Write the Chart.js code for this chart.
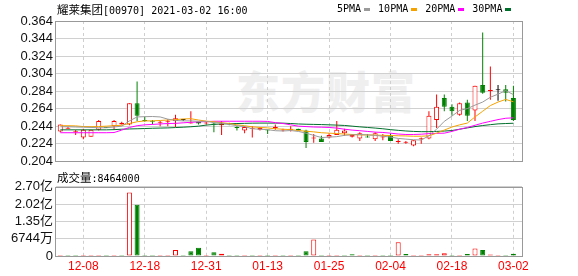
<!DOCTYPE html>
<html lang="zh">
  <head>
    <meta charset="UTF-8" />
    <title>耀莱集团 K线</title>
    <style>
      body { margin: 0; background: #fff; }
      #wrap { position: relative; width: 578px; height: 276px; overflow: hidden; }
      #wrap canvas { position: absolute; left: 0; }
      .mono { font-family: 'DejaVu Sans Mono', monospace; font-size: 10px; }
      .cjk { font-family: 'Noto Sans CJK SC', sans-serif; font-size: 11.5px; }
      .title { position: absolute; left: 57px; top: 0px; line-height: 18px; color: #000; white-space: nowrap; }
      .legend { position: absolute; left: 337px; top: 0px; line-height: 18px; display: flex; align-items: center; white-space: nowrap; color: #000; }
      .legend i { display: inline-block; width: 6px; height: 3px; margin: 1px 8px 0 3px; }
      .vol-title { position: absolute; left: 57px; top: 168px; line-height: 18px; white-space: nowrap; color: #000; }
      .watermark { position: absolute; left: 236px; top: 58px; font: 900 44px 'Noto Sans CJK SC', sans-serif; color: #efefef; letter-spacing: 1px; }
    </style>
  </head>
  <body>
    <div id="wrap">
      <div class="watermark">东方财富</div>
      <canvas id="price" width="578" height="172" style="top:0"></canvas>
      <canvas id="volume" width="578" height="100" style="top:176px"></canvas>
      <div class="title"><span class="cjk">耀莱集团</span><span class="mono">[00970] 2021-03-02 16:00</span></div>
      <div class="legend mono" id="legend"></div>
      <div class="vol-title"><span class="cjk">成交量</span><span class="mono" id="lastVol"></span></div>
    </div>

    <script src="https://cdn.jsdelivr.net/npm/chart.js"></script>
    <script>
      // trading days shown (MM-DD)
      const dates = ['12-03','12-04','12-07','12-08','12-09','12-10','12-11','12-14','12-15','12-16',
        '12-17','12-18','12-21','12-22','12-23','12-24','12-28','12-29','12-30','12-31',
        '01-04','01-05','01-06','01-07','01-08','01-11','01-12','01-13','01-14','01-15',
        '01-18','01-19','01-20','01-21','01-22','01-25','01-26','01-27','01-28','01-29',
        '02-01','02-02','02-03','02-04','02-05','02-08','02-09','02-10','02-11','02-16',
        '02-17','02-18','02-19','02-22','02-23','02-24','02-25','02-26','03-01','03-02'];

      const open = [0.238,0.241,0.237,0.231,0.232,0.240,0.243,0.244,0.246,0.246,
        0.270,0.251,0.250,0.248,0.249,0.250,0.251,0.247,0.249,0.247,
        0.247,0.245,0.247,0.243,0.239,0.241,0.240,0.240,0.242,0.239,
        0.240,0.241,0.239,0.230,0.230,0.231,0.234,0.236,0.232,0.230,
        0.232,0.229,0.231,0.233,0.226,0.225,0.222,0.229,0.230,0.251,
        0.276,0.266,0.257,0.271,0.262,0.291,0.284,0.285,0.286,0.276];
      const high = [0.246,0.243,0.240,0.241,0.240,0.251,0.243,0.251,0.249,0.270,
        0.295,0.255,0.251,0.250,0.252,0.257,0.252,0.261,0.249,0.249,
        0.248,0.250,0.248,0.244,0.244,0.244,0.243,0.240,0.246,0.241,
        0.244,0.241,0.240,0.235,0.233,0.236,0.250,0.241,0.235,0.237,
        0.235,0.237,0.235,0.236,0.229,0.227,0.228,0.231,0.261,0.280,
        0.280,0.269,0.271,0.274,0.290,0.351,0.312,0.291,0.291,0.290];
      const low = [0.237,0.241,0.234,0.229,0.232,0.239,0.242,0.240,0.246,0.245,
        0.250,0.249,0.246,0.244,0.244,0.243,0.250,0.247,0.246,0.246,
        0.237,0.234,0.245,0.239,0.236,0.231,0.239,0.235,0.240,0.238,
        0.238,0.239,0.219,0.225,0.226,0.230,0.234,0.233,0.231,0.227,
        0.231,0.227,0.228,0.227,0.224,0.224,0.221,0.224,0.229,0.242,
        0.261,0.256,0.256,0.250,0.250,0.281,0.274,0.273,0.272,0.250];
      const close = [0.246,0.242,0.238,0.240,0.240,0.250,0.242,0.250,0.248,0.270,
        0.256,0.250,0.249,0.249,0.250,0.253,0.251,0.248,0.247,0.248,
        0.246,0.247,0.246,0.242,0.243,0.242,0.242,0.239,0.243,0.240,
        0.241,0.239,0.226,0.231,0.226,0.234,0.240,0.239,0.234,0.236,
        0.231,0.236,0.232,0.227,0.227,0.226,0.228,0.230,0.256,0.266,
        0.266,0.261,0.270,0.256,0.290,0.282,0.285,0.285,0.282,0.251];

      const ma5 = [0.2433,0.2433,0.2430,0.2428,0.2425,0.2422,0.2422,0.2430,0.2440,
        0.2500,0.2545,0.2548,0.2550,0.2545,0.2520,0.2505,0.2500,0.2500,0.2495,0.2495,
        0.2480,0.2475,0.2460,0.2445,0.2435,0.2410,0.2405,0.2400,0.2388,0.2385,0.2390,
        0.2380,0.2360,0.2335,0.2310,0.2315,0.2320,0.2335,0.2340,0.2345,0.2340,
        0.2335,0.2325,0.2315,0.2300,0.2292,0.2285,0.2282,0.2330,0.2405,0.2495,
        0.2555,0.2620,0.2640,0.2680,0.2715,0.2770,0.2805,0.2845,0.2800];
      const ma10 = [0.2445,0.2445,0.2443,0.2435,0.2433,0.2435,0.2440,0.2445,0.2450,
        0.2470,0.2490,0.2500,0.2500,0.2505,0.2510,0.2515,0.2522,0.2525,0.2510,0.2497,
        0.2490,0.2480,0.2470,0.2455,0.2445,0.2432,0.2425,0.2420,0.2410,0.2405,0.2400,
        0.2390,0.2382,0.2375,0.2365,0.2360,0.2355,0.2350,0.2345,0.2340,0.2340,
        0.2338,0.2335,0.2333,0.2330,0.2328,0.2325,0.2325,0.2330,0.2360,0.2395,
        0.2430,0.2455,0.2475,0.2545,0.2610,0.2675,0.2715,0.2745,0.2718];
      const ma20 = [0.2365,0.2365,0.2365,0.2365,0.2365,0.2365,0.2365,0.2367,0.2395,
        0.2425,0.2445,0.2455,0.2460,0.2465,0.2470,0.2472,0.2478,0.2484,0.2488,0.2492,
        0.2496,0.2496,0.2496,0.2496,0.2496,0.2496,0.2496,0.2494,0.2480,0.2470,0.2455,
        0.2440,0.2435,0.2430,0.2428,0.2425,0.2418,0.2405,0.2395,0.2388,0.2380,
        0.2372,0.2368,0.2360,0.2350,0.2345,0.2345,0.2348,0.2355,0.2358,0.2360,
        0.2380,0.2405,0.2425,0.2450,0.2475,0.2495,0.2515,0.2530,0.2535];
      const ma30 = [0.2398,0.2398,0.2398,0.2398,0.2398,0.2398,0.2398,0.2400,
        0.2405,0.2408,0.2410,0.2413,0.2416,0.2418,0.2420,0.2424,0.2428,0.2433,0.2440,0.2452,
        0.2460,0.2465,0.2468,0.2470,0.2472,0.2474,0.2475,0.2475,0.2475,0.2474,0.2470,
        0.2465,0.2462,0.2460,0.2458,0.2455,0.2452,0.2448,0.2440,0.2432,0.2425,
        0.2418,0.2410,0.2400,0.2392,0.2385,0.2380,0.2377,0.2377,0.2380,0.2384,
        0.2390,0.2405,0.2420,0.2435,0.2447,0.2457,0.2466,0.2470,0.2473];

      const vol = [4000000,3000000,3000000,4000000,3000000,4000000,3000000,4000000,3000000,248000000,
        200000000,4000000,3000000,3000000,4000000,23000000,4000000,19000000,32000000,4000000,
        15000000,9000000,3000000,3000000,4000000,3000000,3000000,3000000,3000000,3000000,
        3000000,4000000,19000000,64000000,4000000,3000000,3000000,3000000,7000000,3000000,
        3000000,3000000,3000000,3000000,54000000,8000000,3000000,3000000,7000000,7000000,
        11000000,4000000,3000000,8000000,29000000,23000000,6000000,3000000,3000000,8464000];

      const priceTicks = [0.204, 0.224, 0.244, 0.264, 0.284, 0.304, 0.324, 0.344, 0.364];
      const volTicks = [0, 67440000, 134880000, 202320000, 269760000];
      const volTickLabels = ['0', '6744万', '1.35亿', '2.02亿', '2.70亿'];

      const maNames = ['5PMA', '10PMA', '20PMA', '30PMA'];
      const maSeries = [ma5, ma10, ma20, ma30];
      const maColors = ['#9a9a9a', '#f5a200', '#ff00ff', '#006f2c'];

      const RED = '#ff0000', GREEN = '#008000', BLACK = '#000000';
      const X_MIN = -0.56, X_MAX = 60.12;
      const tickIdx = dates.map((d, i) => i).filter(i => i % 8 === 3);

      const candleColor = i => close[i] > open[i] ? RED : close[i] < open[i] ? GREEN : BLACK;
      const volUp = i => close[i] >= (i ? close[i - 1] : open[i]);

      // legend + last volume text
      document.getElementById('legend').innerHTML = maNames
        .map((n, k) => n + '<i style="background:' + maColors[k] + '"></i>').join('');
      document.getElementById('lastVol').textContent = ':' + vol[vol.length - 1];

      Chart.defaults.font.family = "'Liberation Sans', 'Noto Sans CJK SC', sans-serif";

      const frame = {
        id: 'frame',
        afterDatasetsDraw(chart) {
          const { ctx, chartArea: a } = chart;
          const l = Math.round(a.left) - 0.5, r = Math.round(a.right) + 0.5;
          const t = Math.round(a.top) + 0.5, b = Math.round(a.bottom) + 0.5;
          ctx.save();
          ctx.strokeStyle = '#999';
          ctx.lineWidth = 1;
          ctx.strokeRect(l, t, r - l, b - t);
          ctx.restore();
        }
      };

      function xAxis(showLabels) {
        return {
          type: 'linear', min: X_MIN, max: X_MAX, offset: false,
          afterBuildTicks: s => { s.ticks = tickIdx.map(v => ({ value: v })); },
          afterFit: s => { s.height = showLabels ? 20 : 0; },
          grid: { color: '#cfcfcf', offset: false, drawTicks: false },
          border: { display: false, dash: [3, 3] },
          ticks: {
            display: showLabels, autoSkip: false, maxRotation: 0, color: RED, padding: 3,
            font: { size: 12 }, callback: (v, i) => dates[tickIdx[i]]
          }
        };
      }

      function yAxis(lo, hi, tickVals, label) {
        return {
          min: lo, max: hi,
          afterBuildTicks: s => { s.ticks = tickVals.map(v => ({ value: v })); },
          afterFit: s => { s.width = 56; },
          grid: { color: '#d0d0d0', drawTicks: false },
          border: { display: false },
          ticks: { autoSkip: false, padding: 3, color: '#111', font: { size: 13 }, callback: label }
        };
      }

      const base = {
        responsive: false, animation: false, devicePixelRatio: 1, events: [],
        plugins: { legend: { display: false }, tooltip: { enabled: false } }
      };

      new Chart(document.getElementById('price'), {
        type: 'bar',
        data: {
          datasets: [
            ...maNames.map((name, k) => ({
              type: 'line', label: name,
              data: maSeries[k].map((v, i) => ({ x: i, y: v })),
              borderColor: maColors[k], borderWidth: 1, pointRadius: 0, tension: 0, order: k
            })),
            {
              label: 'body',
              data: dates.map((d, i) => ({ x: i, y: [open[i], close[i]] })),
              barThickness: 5, borderWidth: 1, borderSkipped: false, minBarLength: 1,
              grouped: false, inflateAmount: 0, order: 10,
              borderColor: c => candleColor(c.dataIndex),
              backgroundColor: c => close[c.dataIndex] > open[c.dataIndex] ? '#ffffff' : candleColor(c.dataIndex)
            },
            {
              label: 'wick',
              data: dates.map((d, i) => ({ x: i, y: [low[i], high[i]] })),
              barThickness: 1, borderWidth: 0, grouped: false, inflateAmount: 0, order: 11,
              backgroundColor: c => candleColor(c.dataIndex)
            }
          ]
        },
        options: {
          ...base,
          layout: { padding: { left: 0, right: 56, top: 21, bottom: 6 } },
          scales: {
            x: xAxis(false),
            y: yAxis(0.204, 0.364, priceTicks, v => v.toFixed(3))
          }
        },
        plugins: [frame]
      });

      new Chart(document.getElementById('volume'), {
        type: 'bar',
        data: {
          datasets: [{
            label: '成交量',
            data: vol.map((v, i) => ({ x: i, y: v })),
            barThickness: 5, borderWidth: 1, borderSkipped: false, minBarLength: 1,
            grouped: false, inflateAmount: 0,
            borderColor: c => volUp(c.dataIndex) ? RED : GREEN,
            backgroundColor: c => volUp(c.dataIndex) ? '#ffffff' : GREEN
          }]
        },
        options: {
          ...base,
          layout: { padding: { left: 0, right: 56, top: 10, bottom: 0 } },
          scales: {
            x: xAxis(true),
            y: yAxis(0, 269760000, volTicks, (v, i) => volTickLabels[i])
          }
        },
        plugins: [frame]
      });
    </script>
  </body>
</html>
